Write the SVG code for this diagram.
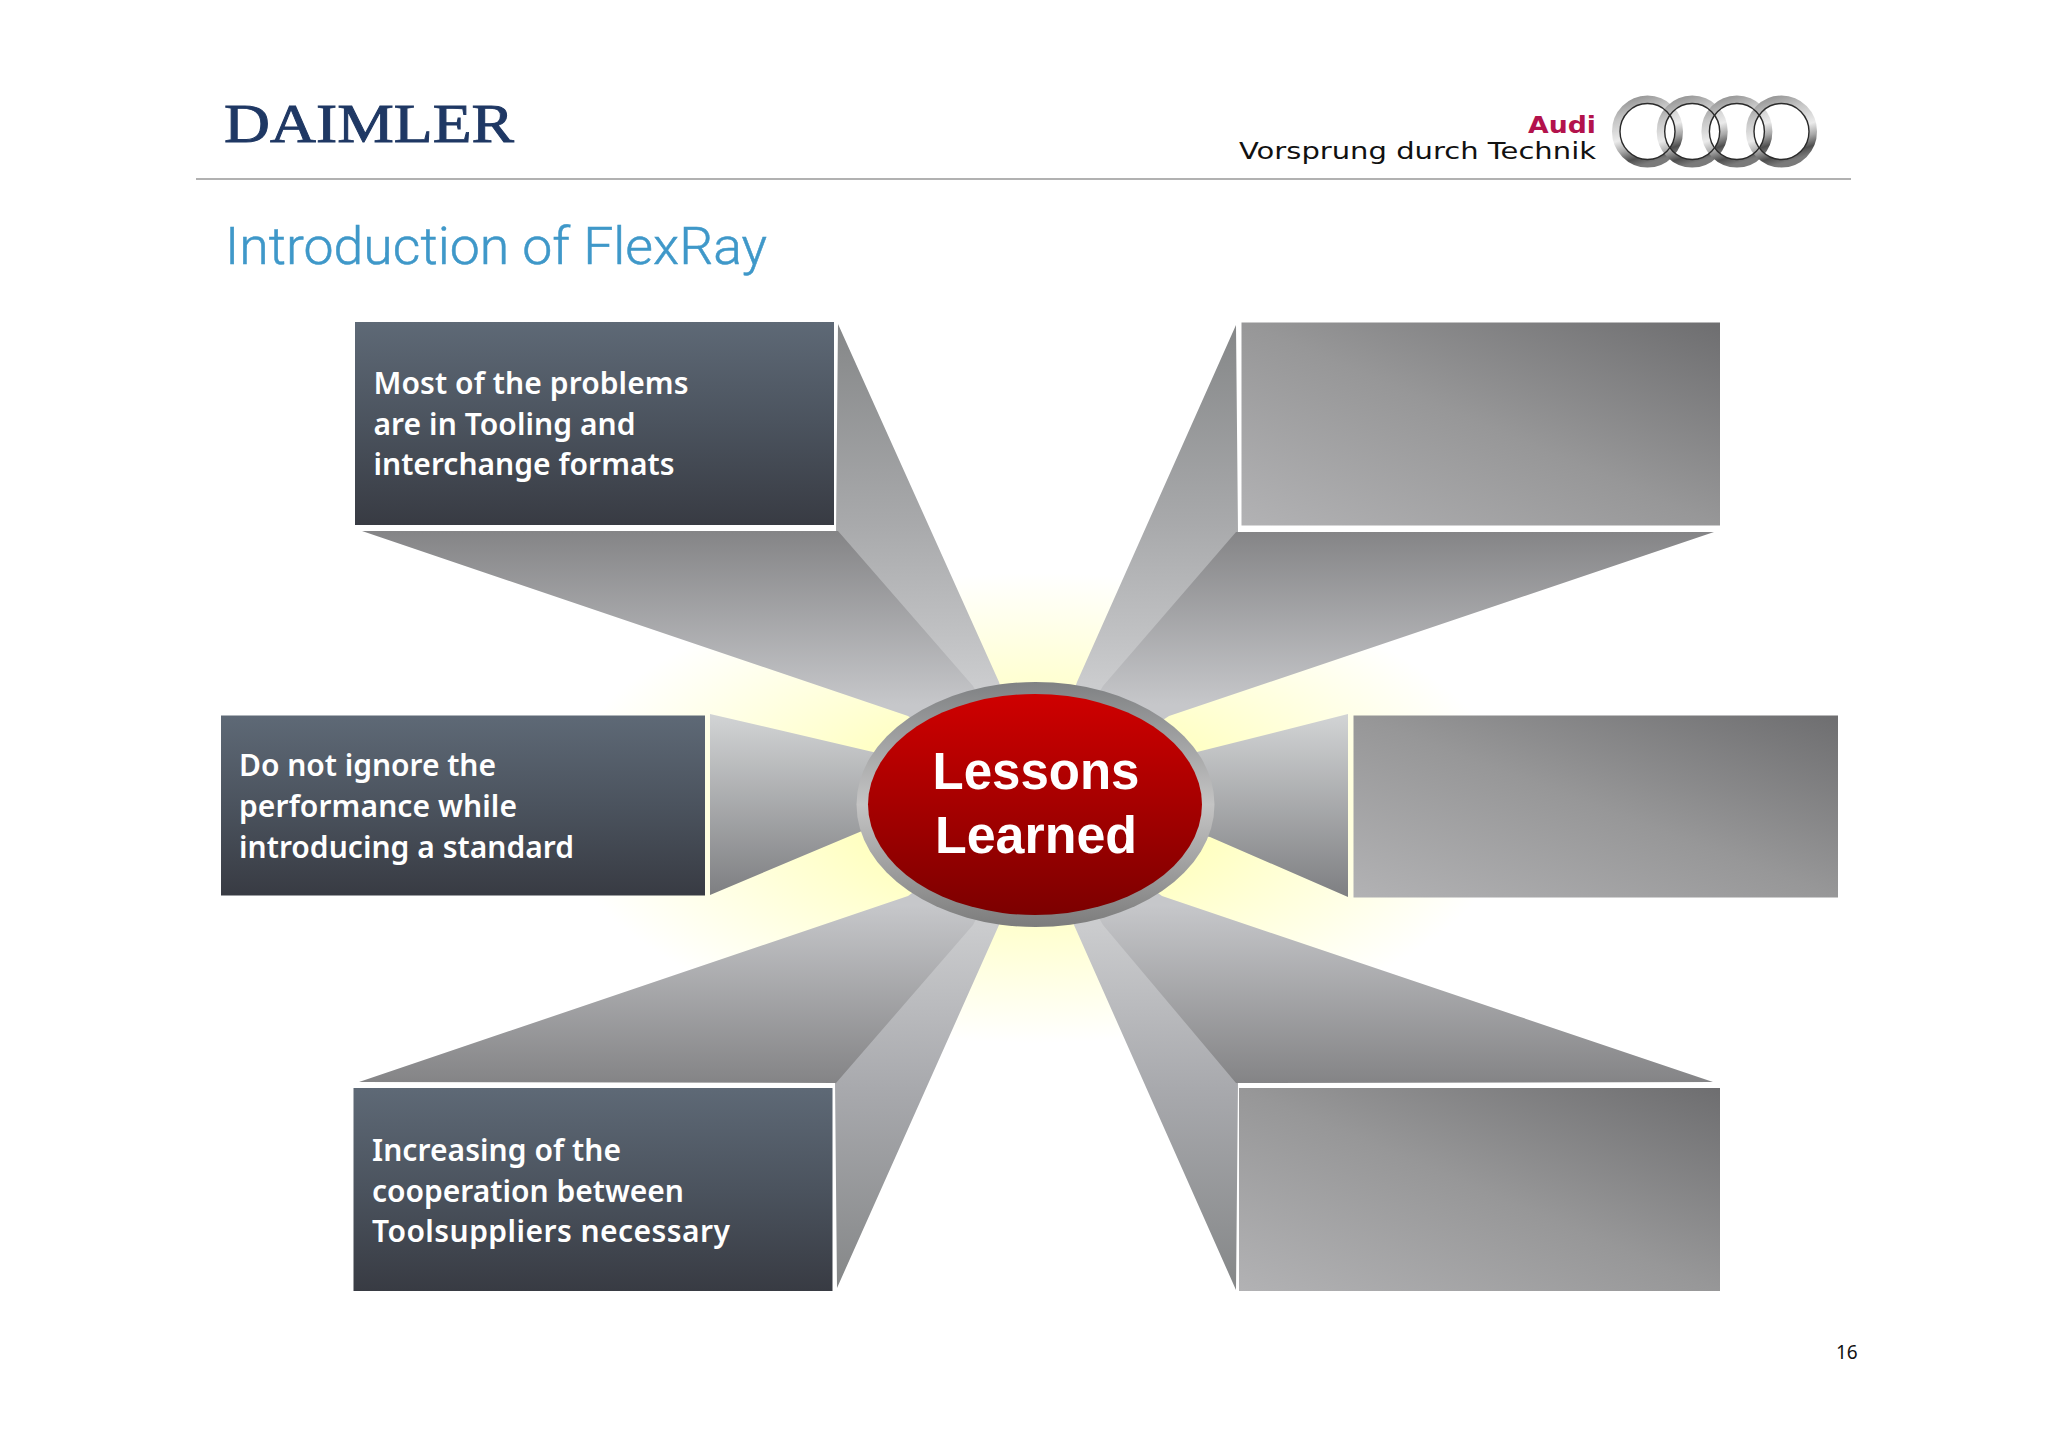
<svg xmlns="http://www.w3.org/2000/svg" width="2048" height="1447" viewBox="0 0 2048 1447">
<defs>
<linearGradient id="dark" x1="0" y1="0" x2="0" y2="1"><stop offset="0" stop-color="#5e6976"/><stop offset="0.5" stop-color="#4b535e"/><stop offset="1" stop-color="#383b43"/></linearGradient>
<linearGradient id="gray" x1="0" y1="1" x2="1" y2="0"><stop offset="0" stop-color="#b2b2b4"/><stop offset="0.5" stop-color="#979798"/><stop offset="1" stop-color="#6e6e70"/></linearGradient>
<linearGradient id="trapTop" gradientUnits="userSpaceOnUse" x1="0" y1="530" x2="0" y2="705"><stop offset="0" stop-color="#848486"/><stop offset="1" stop-color="#c6c7ca"/></linearGradient>
<linearGradient id="sideTop" gradientUnits="userSpaceOnUse" x1="0" y1="324" x2="0" y2="685"><stop offset="0" stop-color="#858788"/><stop offset="0.55" stop-color="#a8a9ab"/><stop offset="1" stop-color="#cbccce"/></linearGradient>
<linearGradient id="trapBot" gradientUnits="userSpaceOnUse" x1="0" y1="1083" x2="0" y2="905"><stop offset="0" stop-color="#848486"/><stop offset="1" stop-color="#c6c7ca"/></linearGradient>
<linearGradient id="sideBot" gradientUnits="userSpaceOnUse" x1="0" y1="1288" x2="0" y2="925"><stop offset="0" stop-color="#858788"/><stop offset="0.55" stop-color="#a8a9ad"/><stop offset="1" stop-color="#cbccce"/></linearGradient>
<linearGradient id="fanMid" x1="0" y1="0" x2="0" y2="1"><stop offset="0" stop-color="#d2d4d5"/><stop offset="1" stop-color="#7e7f82"/></linearGradient>
<linearGradient id="rim" x1="0" y1="0" x2="0" y2="1"><stop offset="0" stop-color="#7f8183"/><stop offset="0.5" stop-color="#c4c4c4"/><stop offset="1" stop-color="#7c7c7c"/></linearGradient>
<linearGradient id="red" x1="0" y1="0" x2="0" y2="1"><stop offset="0" stop-color="#cf0000"/><stop offset="1" stop-color="#7c0000"/></linearGradient>
<linearGradient id="silver" x1="0.2" y1="0" x2="0.5" y2="1"><stop offset="0" stop-color="#979797"/><stop offset="0.25" stop-color="#c6c6c6"/><stop offset="0.55" stop-color="#ebebeb"/><stop offset="0.72" stop-color="#a8a8a8"/><stop offset="0.88" stop-color="#4e4e4e"/><stop offset="1" stop-color="#7a7a7a"/></linearGradient>
<radialGradient id="glow" cx="0.5" cy="0.5" r="0.5"><stop offset="0" stop-color="#ffffb4"/><stop offset="0.35" stop-color="#ffffbe"/><stop offset="0.52" stop-color="#ffffd0"/><stop offset="1" stop-color="#ffffff"/></radialGradient>
</defs>
<style>
.box{font-family:"Noto Sans","Liberation Sans",sans-serif;font-size:30px;font-weight:600;fill:#fff}
.ring{fill:none;stroke:url(#silver);stroke-width:8}
.ringline{fill:none;stroke:#2a2a2a;stroke-width:1.4}
</style>
<rect width="2048" height="1447" fill="#fff"/>

<g id="header">
<text x="224" y="142" font-family="Liberation Serif,serif" font-size="55" fill="#1f3864" stroke="#1f3864" stroke-width="0.9" textLength="290" lengthAdjust="spacingAndGlyphs">DAIMLER</text>
<line x1="196" y1="179" x2="1851" y2="179" stroke="#979797" stroke-width="1.6"/>
<text x="225" y="264" font-family="Roboto,sans-serif" font-weight="300" font-size="52" fill="#3f98c9" stroke="#3f98c9" stroke-width="0.5" textLength="542" lengthAdjust="spacingAndGlyphs">Introduction of FlexRay</text>
<text x="1528" y="133" font-family="DejaVu Sans,sans-serif" font-weight="700" font-size="22.5" fill="#b3124c" textLength="68" lengthAdjust="spacingAndGlyphs">Audi</text>
<text x="1239" y="159" font-family="DejaVu Sans,sans-serif" font-size="22.5" fill="#111" textLength="357" lengthAdjust="spacingAndGlyphs">Vorsprung durch Technik</text>
<g id="rings">
<ellipse class="ring" cx="1647.5" cy="131.5" rx="31.5" ry="32"/>
<ellipse class="ring" cx="1692.2" cy="131.5" rx="31.5" ry="32"/>
<ellipse class="ring" cx="1736.9" cy="131.5" rx="31.5" ry="32"/>
<ellipse class="ring" cx="1781.5" cy="131.5" rx="31.5" ry="32"/>
<ellipse class="ringline" cx="1647.5" cy="131.5" rx="27.5" ry="28"/>
<ellipse class="ringline" cx="1692.2" cy="131.5" rx="27.5" ry="28"/>
<ellipse class="ringline" cx="1736.9" cy="131.5" rx="27.5" ry="28"/>
<ellipse class="ringline" cx="1781.5" cy="131.5" rx="27.5" ry="28"/>
</g>
</g>

<ellipse id="glow-area" cx="1035" cy="808" rx="480" ry="235" fill="url(#glow)"/>

<g id="connectors">
<polygon points="838,324 999,682 1035,804 970,688 836,532" fill="url(#sideTop)"/>
<polygon points="1236,325 1077,682 1035,804 1106,688 1238,532" fill="url(#sideTop)"/>
<polygon points="837,1288 999,925 1035,804 970,923 835,1081" fill="url(#sideBot)"/>
<polygon points="1236,1290 1074,925 1035,804 1106,923 1238,1081" fill="url(#sideBot)"/>
<polygon points="362,531 838,531 973,686 1035,804 908,716" fill="url(#trapTop)"/>
<polygon points="1714,532 1236,532 1103,686 1035,804 1169,716" fill="url(#trapTop)"/>
<polygon points="359,1082 836,1083 973,925 1035,804 908,896" fill="url(#trapBot)"/>
<polygon points="1713,1082 1236,1083 1103,925 1035,804 1162,896" fill="url(#trapBot)"/>
<polygon points="710,714 873,752 1035,804 862,831 710,895" fill="url(#fanMid)"/>
<polygon points="1348,714 1197,752 1035,804 1210,837 1348,897" fill="url(#fanMid)"/>
</g>

<g id="node-top-left">
<rect x="355" y="322" width="479" height="203" fill="url(#dark)"/>
<text class="box" x="373.5" y="394" textLength="315" lengthAdjust="spacing">Most of the problems</text>
<text class="box" x="373.5" y="435" textLength="262" lengthAdjust="spacing">are in Tooling and</text>
<text class="box" x="373.5" y="475" textLength="301" lengthAdjust="spacing">interchange formats</text>
</g>
<g id="node-top-right"><rect x="1241.5" y="322.5" width="478.5" height="203" fill="url(#gray)"/></g>
<g id="node-mid-left">
<rect x="221" y="715.5" width="484" height="180" fill="url(#dark)"/>
<text class="box" x="239" y="776" textLength="257" lengthAdjust="spacing">Do not ignore the</text>
<text class="box" x="239" y="817" textLength="278" lengthAdjust="spacing">performance while</text>
<text class="box" x="239" y="858" textLength="335" lengthAdjust="spacing">introducing a standard</text>
</g>
<g id="node-mid-right"><rect x="1353.5" y="715.5" width="484.5" height="182" fill="url(#gray)"/></g>
<g id="node-bottom-left">
<rect x="353.5" y="1088" width="479" height="203" fill="url(#dark)"/>
<text class="box" x="372" y="1160.5" textLength="249" lengthAdjust="spacing">Increasing of the</text>
<text class="box" x="372" y="1201.5" textLength="312" lengthAdjust="spacing">cooperation between</text>
<text class="box" x="372" y="1242" textLength="358" lengthAdjust="spacing">Toolsuppliers necessary</text>
</g>
<g id="node-bottom-right"><rect x="1239" y="1088" width="481" height="203" fill="url(#gray)"/></g>

<g id="node-center">
<ellipse cx="1035.5" cy="804.5" rx="179" ry="122.5" fill="url(#rim)"/>
<ellipse cx="1035" cy="804.5" rx="167" ry="110.5" fill="url(#red)"/>
<text x="1036" y="789" text-anchor="middle" font-family="Liberation Sans,sans-serif" font-weight="700" font-size="51" fill="#fff">Lessons</text>
<text x="1036" y="853" text-anchor="middle" font-family="Liberation Sans,sans-serif" font-weight="700" font-size="51" fill="#fff" textLength="202" lengthAdjust="spacingAndGlyphs">Learned</text>
</g>

<text id="page-number" x="1836" y="1358.5" font-family="Noto Sans,sans-serif" font-size="19" fill="#111">16</text>
</svg>
